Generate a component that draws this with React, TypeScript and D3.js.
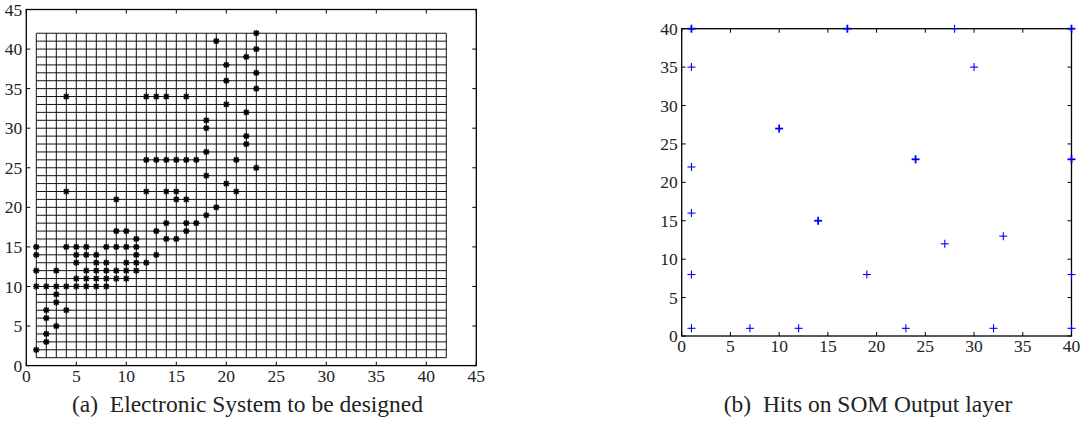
import React from 'react'
import * as d3 from 'd3'

// (a) cells used by the electronic system, [col, row]
const designPoints: [number, number][] = [
    [1, 15], [1, 14], [1, 12], [1, 10], [1, 2],
    [2, 10], [2, 7], [2, 6], [2, 4], [2, 3],
    [3, 12], [3, 10], [3, 9], [3, 8], [3, 5],
    [4, 34], [4, 22], [4, 15], [4, 10], [4, 7],
    [5, 15], [5, 14], [5, 13], [5, 11], [5, 10],
    [6, 15], [6, 14], [6, 12], [6, 11], [6, 10],
    [7, 14], [7, 13], [7, 12], [7, 11], [7, 10],
    [8, 15], [8, 13], [8, 12], [8, 11], [8, 10],
    [9, 21], [9, 17], [9, 15], [9, 12], [9, 11],
    [10, 17], [10, 15], [10, 13], [10, 12], [10, 11],
    [11, 16], [11, 15], [11, 14], [11, 13], [11, 12],
    [12, 34], [12, 26], [12, 22], [12, 13],
    [13, 34], [13, 26], [13, 17], [13, 14],
    [14, 34], [14, 26], [14, 22], [14, 18], [14, 16],
    [15, 26], [15, 22], [15, 21], [15, 16],
    [16, 34], [16, 26], [16, 21], [16, 18], [16, 17],
    [17, 26], [17, 18],
    [18, 31], [18, 30], [18, 27], [18, 24], [18, 19],
    [19, 41], [19, 20],
    [20, 38], [20, 36], [20, 33], [20, 23],
    [21, 26], [21, 22],
    [22, 39], [22, 32], [22, 29], [22, 28],
    [23, 42], [23, 40], [23, 37], [23, 35], [23, 25],
]

// (b) hits on the SOM output layer, [x, y]
const hitPoints: [number, number][] = [
    [1, 40], [1, 35], [1, 22], [1, 16], [1, 8], [1, 1],
    [7, 1], [10, 27], [12, 1], [14, 15], [17, 40], [19, 8],
    [23, 1], [24, 23], [27, 12], [28, 40], [30, 35], [32, 1], [33, 13],
    [40, 40], [40, 23], [40, 8], [40, 1],
]
// how many times each hit point was hit (bolder mark when > 1)
const hitCounts = [2, 1, 1, 1, 1, 1, 1, 2, 1, 2, 2, 1, 1, 2, 1, 1, 1, 1, 1, 2, 2, 1, 1]

const gridLines = d3.range(1, 43)
const leftTicks = d3.range(0, 46, 5)
const rightTicks = d3.range(0, 41, 5)
const captions = ['(a)  Electronic System to be designed', '(b)  Hits on SOM Output layer']

const FONT = "'Liberation Serif', 'DejaVu Serif', serif"
const txt = { fontFamily: FONT }

const Frame: React.FC<{ x: d3.ScaleLinear<number, number>, y: d3.ScaleLinear<number, number>, ticks: number[] }> = ({ x, y, ticks }) => {
    const [x0, x1] = x.range()
    const [y0, y1] = y.range()
    const tl = 4
    return (
        <g>
            {ticks.map(t => (
                <g key={'t' + t} stroke="#000" strokeWidth={1}>
                    <line x1={x(t)} x2={x(t)} y1={y0} y2={y0 - tl} />
                    <line x1={x(t)} x2={x(t)} y1={y1} y2={y1 + tl} />
                    <line x1={x0} x2={x0 + tl} y1={y(t)} y2={y(t)} />
                    <line x1={x1} x2={x1 - tl} y1={y(t)} y2={y(t)} />
                </g>
            ))}
            <rect x={x0} y={y1} width={x1 - x0} height={y0 - y1} fill="none" stroke="#000" strokeWidth={1.3} />
            {ticks.map(t => (
                <text key={'xl' + t} x={x(t)} y={y0 + 16} textAnchor="middle" fontSize={17.5} style={txt} fill="#222">{t}</text>
            ))}
            {ticks.map(t => (
                <text key={'yl' + t} x={x0 - 4} y={y(t)} dy="0.35em" textAnchor="end" fontSize={17.5} style={txt} fill="#222">{t}</text>
            ))}
        </g>
    )
}

const App: React.FC = () => {
    // left panel scales
    const xa = d3.scaleLinear().domain([0, 45]).range([26.3, 476.3])
    const ya = d3.scaleLinear().domain([0, 45]).range([365.6, 9.5])
    // right panel scales
    const xb = d3.scaleLinear().domain([0, 40]).range([681.7, 1071.5])
    const yb = d3.scaleLinear().domain([0, 40]).range([336, 28.7])

    const s = 3.2
    const d = 2.3

    return (
        <svg width={1080} height={425} style={{ position: 'absolute', left: 0, top: 0, background: '#fff' }}>
            {/* grid of the electronic system */}
            <g stroke="#111" strokeWidth={1}>
                {gridLines.map(v => (
                    <line key={'gv' + v} x1={xa(v)} x2={xa(v)} y1={ya(1)} y2={ya(42)} />
                ))}
                {gridLines.map(v => (
                    <line key={'gh' + v} x1={xa(1)} x2={xa(42)} y1={ya(v)} y2={ya(v)} />
                ))}
            </g>
            <Frame x={xa} y={ya} ticks={leftTicks} />
            <g stroke="#000" strokeWidth={1.6}>
                {designPoints.map(([px, py], i) => {
                    const cx = xa(px), cy = ya(py)
                    return (
                        <g key={'dp' + i}>
                            <line x1={cx - s} x2={cx + s} y1={cy} y2={cy} />
                            <line x1={cx} x2={cx} y1={cy - s} y2={cy + s} />
                            <line x1={cx - d} x2={cx + d} y1={cy - d} y2={cy + d} />
                            <line x1={cx - d} x2={cx + d} y1={cy + d} y2={cy - d} />
                        </g>
                    )
                })}
            </g>

            <Frame x={xb} y={yb} ticks={rightTicks} />
            <g stroke="#0000ff">
                {hitPoints.map(([px, py], i) => {
                    const cx = xb(px), cy = yb(py)
                    const r = 4
                    return (
                        <g key={'hp' + i} strokeWidth={hitCounts[i] > 1 ? 1.8 : 1.1}>
                            <line x1={cx - r} x2={cx + r} y1={cy} y2={cy} />
                            <line x1={cx} x2={cx} y1={cy - r} y2={cy + r} />
                        </g>
                    )
                })}
            </g>

            <text x={247.5} y={412} textAnchor="middle" fontSize={23.5} style={{ ...txt, whiteSpace: 'pre' }} fill="#222">{captions[0]}</text>
            <text x={868} y={412} textAnchor="middle" fontSize={23.5} style={{ ...txt, whiteSpace: 'pre' }} fill="#222">{captions[1]}</text>
        </svg>
    )
}

export default App
